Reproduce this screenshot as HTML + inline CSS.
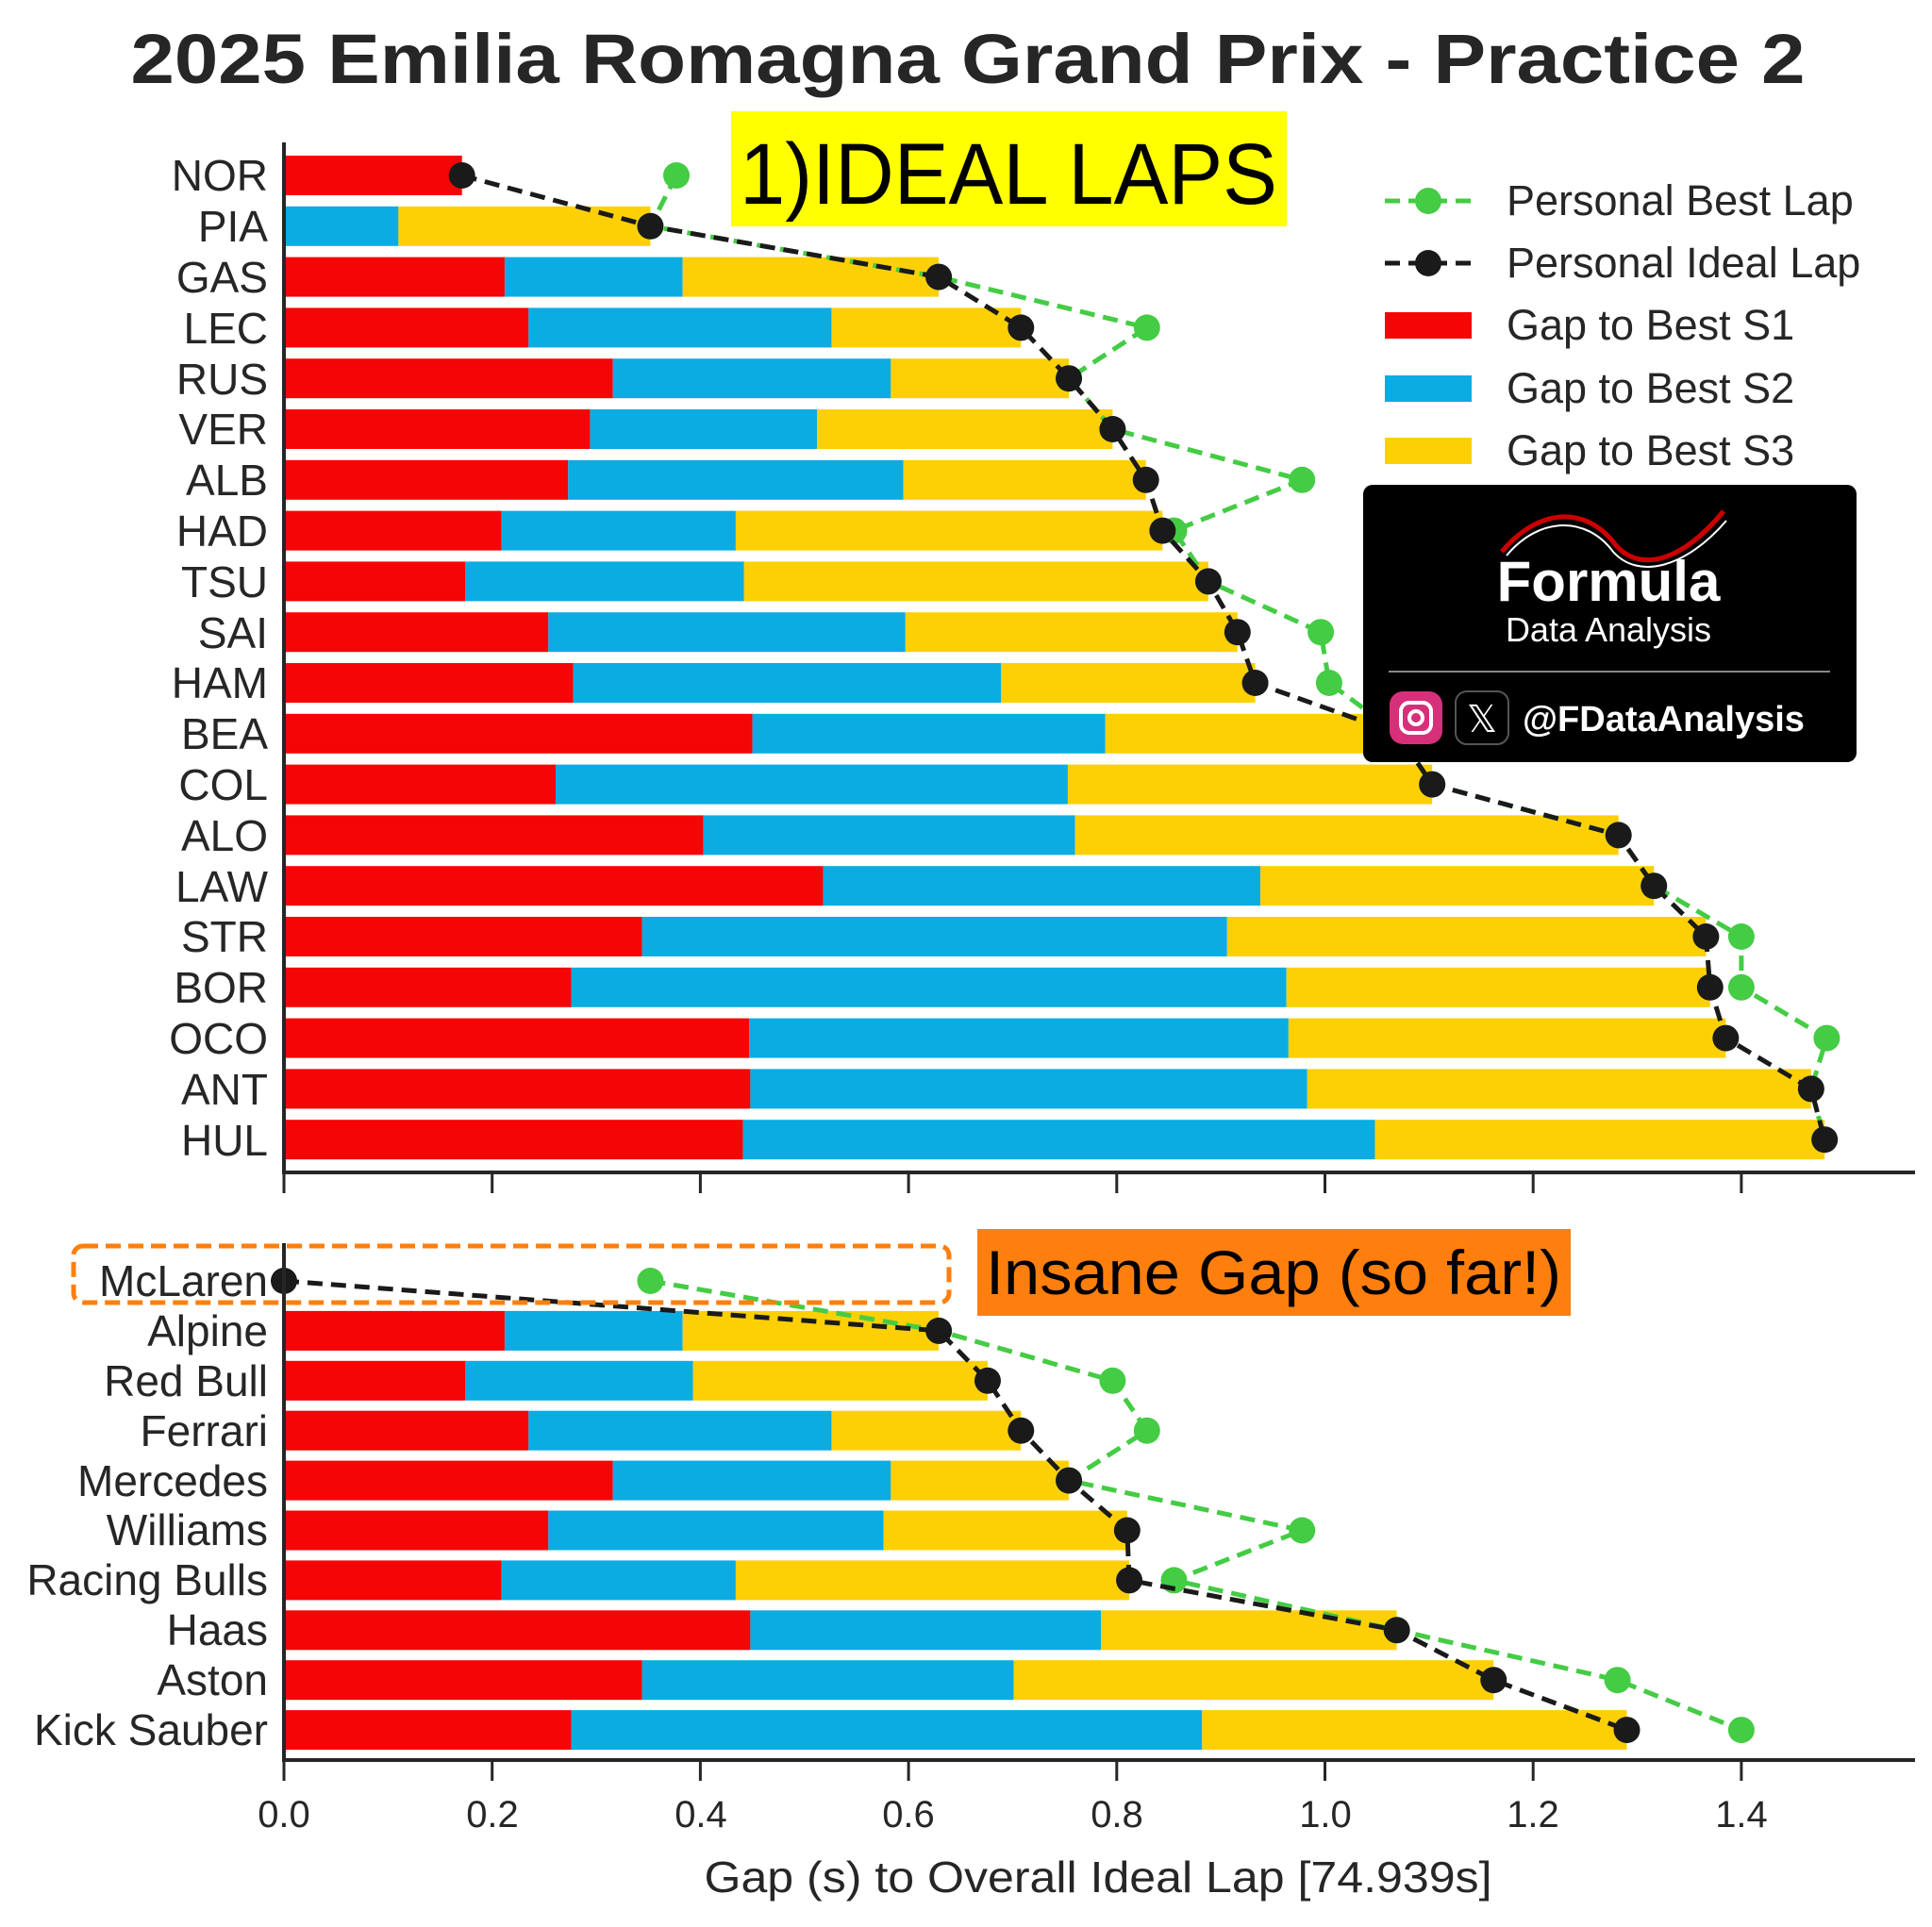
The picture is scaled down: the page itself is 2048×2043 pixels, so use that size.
<!DOCTYPE html>
<html><head><meta charset="utf-8"><style>
html,body{margin:0;padding:0;background:#fff;}
svg{display:block;font-family:"Liberation Sans",sans-serif;}
</style></head><body>
<svg id="s" width="2048" height="2043" viewBox="0 0 2048 2043" xmlns="http://www.w3.org/2000/svg">
<rect width="2048" height="2043" fill="#fff"/>
<text x="1026" y="88" font-size="74" font-weight="bold" fill="#262626" text-anchor="middle" textLength="1775" lengthAdjust="spacingAndGlyphs">2025 Emilia Romagna Grand Prix - Practice 2</text>
<g id="plot"></g>
<g font-size="46" fill="#262626" text-anchor="end">
<text x="284" y="202">NOR</text><text x="284" y="256">PIA</text><text x="284" y="310">GAS</text><text x="284" y="364">LEC</text><text x="284" y="418">RUS</text><text x="284" y="471">VER</text><text x="284" y="525">ALB</text><text x="284" y="579">HAD</text><text x="284" y="633">TSU</text><text x="284" y="687">SAI</text><text x="284" y="740">HAM</text><text x="284" y="794">BEA</text><text x="284" y="848">COL</text><text x="284" y="902">ALO</text><text x="284" y="956">LAW</text><text x="284" y="1009">STR</text><text x="284" y="1063">BOR</text><text x="284" y="1117">OCO</text><text x="284" y="1171">ANT</text><text x="284" y="1225">HUL</text>
<text x="284" y="1374">McLaren</text><text x="284" y="1427">Alpine</text><text x="284" y="1480">Red Bull</text><text x="284" y="1533">Ferrari</text><text x="284" y="1586">Mercedes</text><text x="284" y="1638">Williams</text><text x="284" y="1691">Racing Bulls</text><text x="284" y="1744">Haas</text><text x="284" y="1797">Aston</text><text x="284" y="1850">Kick Sauber</text>
</g>
<g font-size="40" fill="#262626" text-anchor="middle">
<text x="301" y="1937">0.0</text><text x="522" y="1937">0.2</text><text x="743" y="1937">0.4</text><text x="963" y="1937">0.6</text><text x="1184" y="1937">0.8</text><text x="1405" y="1937">1.0</text><text x="1625" y="1937">1.2</text><text x="1846" y="1937">1.4</text>
<text x="1164" y="2006" font-size="46" textLength="835" lengthAdjust="spacingAndGlyphs">Gap (s) to Overall Ideal Lap [74.939s]</text>
</g>
<rect x="775" y="118" width="589" height="122" fill="#ffff00"/>
<text x="1069" y="216" font-size="92" fill="#000" text-anchor="middle" textLength="570" lengthAdjust="spacingAndGlyphs">1)IDEAL LAPS</text>
<rect x="1036" y="1303" width="629" height="92" fill="#ff7f0e"/>
<text x="1350" y="1372" font-size="66" fill="#000" text-anchor="middle" textLength="610" lengthAdjust="spacingAndGlyphs">Insane Gap (so far!)</text>
<rect x="78" y="1321" width="928" height="60" rx="10" fill="none" stroke="#ff7f0e" stroke-width="5" stroke-dasharray="16,8"/>
<g font-size="45" fill="#262626">
<line x1="1468" y1="213" x2="1560" y2="213" stroke="#44cc44" stroke-width="5" stroke-dasharray="16,9"/><circle cx="1514" cy="213" r="14" fill="#44cc44"/>
<text x="1597" y="228">Personal Best Lap</text>
<line x1="1468" y1="279" x2="1560" y2="279" stroke="#1a1a1a" stroke-width="5" stroke-dasharray="16,9"/><circle cx="1514" cy="279" r="14" fill="#1a1a1a"/>
<text x="1597" y="294">Personal Ideal Lap</text>
<rect x="1468" y="331" width="92" height="28" fill="#f50505"/><text x="1597" y="360">Gap to Best S1</text>
<rect x="1468" y="398" width="92" height="28" fill="#0aace2"/><text x="1597" y="427">Gap to Best S2</text>
<rect x="1468" y="464" width="92" height="28" fill="#fdd005"/><text x="1597" y="493">Gap to Best S3</text>
</g>
<g transform="translate(-8,-3)">
<rect x="1453" y="517" width="523" height="294" rx="10" fill="#000"/>
<path d="M1600 588 C1640 540,1690 540,1720 580 C1745 610,1790 600,1835 545" fill="none" stroke="#c00" stroke-width="5"/>
<path d="M1605 592 C1640 550,1690 550,1718 588 C1745 618,1795 605,1838 555" fill="none" stroke="#fff" stroke-width="2"/>
<text x="1713" y="640" font-size="60" font-weight="bold" fill="#fff" text-anchor="middle">Formula</text>
<text x="1713" y="683" font-size="36" fill="#fff" text-anchor="middle">Data Analysis</text>
<line x1="1480" y1="715" x2="1948" y2="715" stroke="#888" stroke-width="2"/>
<rect x="1481" y="736" width="56" height="56" rx="14" fill="#d6307a"/>
<rect x="1493" y="748" width="32" height="32" rx="9" fill="none" stroke="#fff" stroke-width="4"/><circle cx="1509" cy="764" r="7" fill="none" stroke="#fff" stroke-width="4"/>
<rect x="1551" y="736" width="56" height="56" rx="12" fill="#000" stroke="#555" stroke-width="2"/>
<text x="1579" y="779" font-size="40" fill="#fff" text-anchor="middle">𝕏</text>
<text x="1622" y="778" font-size="38" font-weight="bold" fill="#fff">@FDataAnalysis</text>
</g>
</svg>
<script>
(function(){
var g=document.getElementById('plot'),NS='http://www.w3.org/2000/svg';
function el(t,a){var e=document.createElementNS(NS,t);for(var k in a)e.setAttribute(k,a[k]);g.appendChild(e);return e;}
function X(v){return 301+v*1103.5;}
var top=[[.171,.171,.171,.171,.377],[0,.110,.352,.352,.352],[.212,.383,.629,.629,.629],[.235,.526,.708,.708,.829],[.316,.583,.754,.754,.754],[.294,.512,.796,.796,.796],[.273,.595,.828,.828,.978],[.209,.434,.844,.844,.855],[.174,.442,.888,.888,.888],[.254,.597,.916,.916,.996],[.278,.689,.933,.933,1.004],[.450,.789,1.07,1.07,1.07],[.261,.753,1.103,1.103,1.103],[.403,.760,1.282,1.282,1.282],[.518,.938,1.316,1.316,1.316],[.344,.906,1.366,1.366,1.400],[.276,.963,1.370,1.370,1.400],[.447,.965,1.385,1.385,1.482],[.448,.983,1.467,1.467,1.467],[.441,1.048,1.480,1.480,1.480]];
var bot=[[0,0,0,0,.352],[.212,.383,.629,.629,.629],[.174,.393,.676,.676,.796],[.235,.526,.708,.708,.829],[.316,.583,.754,.754,.754],[.254,.576,.810,.810,.978],[.209,.434,.812,.812,.855],[.448,.785,1.069,1.069,1.069],[.344,.701,1.162,1.162,1.281],[.276,.882,1.290,1.290,1.400]];
function panel(d,y0,p){
 d.forEach(function(r,i){var y=y0+i*p-21;
  el('rect',{x:X(0),y:y,width:X(r[0])-X(0),height:42,fill:'#f50505'});
  el('rect',{x:X(r[0]),y:y,width:X(r[1])-X(r[0]),height:42,fill:'#0aace2'});
  el('rect',{x:X(r[1]),y:y,width:X(r[2])-X(r[1]),height:42,fill:'#fdd005'});});
 var pg='',pb='';d.forEach(function(r,i){var y=y0+i*p;pg+=X(r[4])+','+y+' ';pb+=X(r[3])+','+y+' ';});
 el('polyline',{points:pg,fill:'none',stroke:'#44cc44','stroke-width':5,'stroke-dasharray':'16,9'});
 d.forEach(function(r,i){el('circle',{cx:X(r[4]),cy:y0+i*p,r:14,fill:'#44cc44'});});
 el('polyline',{points:pb,fill:'none',stroke:'#1a1a1a','stroke-width':5,'stroke-dasharray':'16,9'});
 d.forEach(function(r,i){el('circle',{cx:X(r[3]),cy:y0+i*p,r:14,fill:'#1a1a1a'});});
}
panel(top,186,53.8);panel(bot,1358,52.9);
function axes(yt,yb){
 el('line',{x1:301,y1:yt,x2:301,y2:yb,stroke:'#262626','stroke-width':4});
 el('line',{x1:299,y1:yb,x2:2030,y2:yb,stroke:'#262626','stroke-width':4});
 for(var i=0;i<=7;i++)el('line',{x1:X(i*.2),y1:yb,x2:X(i*.2),y2:yb+22,stroke:'#262626','stroke-width':3});
}
axes(151,1243);axes(1318,1866);
})();
</script>
</body></html>
